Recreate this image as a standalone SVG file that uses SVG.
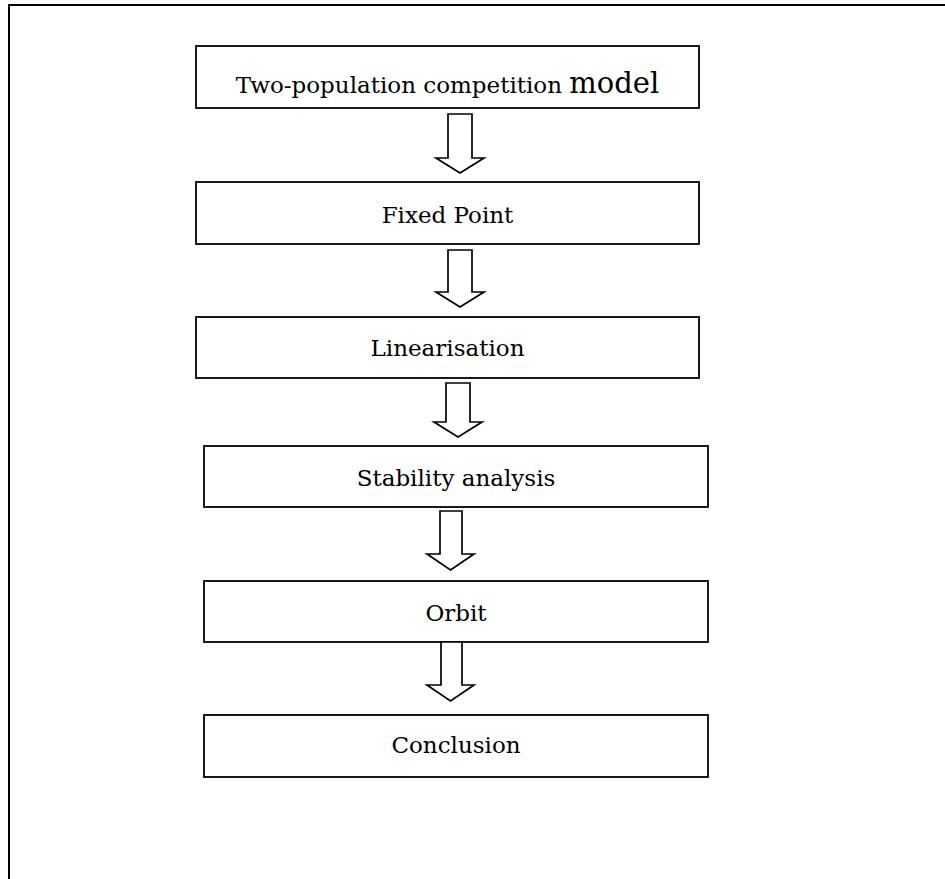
<svg xmlns="http://www.w3.org/2000/svg" width="945" height="879" viewBox="0 0 945 879">
<style>
.box{fill:#fff;stroke:#000;stroke-width:1.8}
.arr{fill:#fff;stroke:#000;stroke-width:1.7;stroke-linejoin:miter}
.t{font-family:"DejaVu Serif","Liberation Serif",serif;font-size:23px;fill:#000;text-anchor:middle}
</style>
<rect width="945" height="879" fill="#fff"/>
<path d="M9,879 V5 H945" fill="none" stroke="#000" stroke-width="2"/>
<g id="n1"><rect class="box" x="196" y="46" width="503" height="62"/><text class="t" x="447.5" y="93">Two-population competition <tspan style="font-size:29px">model</tspan></text></g>
<g id="n2"><rect class="box" x="196" y="182" width="503" height="62"/><text class="t" x="447.5" y="223">Fixed Point</text></g>
<g id="n3"><rect class="box" x="196" y="317" width="503" height="61"/><text class="t" x="447.5" y="356">Linearisation</text></g>
<g id="n4"><rect class="box" x="204" y="446" width="504" height="61"/><text class="t" x="456" y="486">Stability analysis</text></g>
<g id="n5"><rect class="box" x="204" y="581" width="504" height="61"/><text class="t" x="456" y="621">Orbit</text></g>
<g id="n6"><rect class="box" x="204" y="715" width="504" height="62"/><text class="t" x="456" y="753">Conclusion</text></g>
<g id="connectors">
<path class="arr" d="M448,114 H472 V158 H484 L460,173 L436,158 H448 Z"/>
<path class="arr" d="M448,250 H472 V292 H484 L460,307 L436,292 H448 Z"/>
<path class="arr" d="M446,383 H470 V422 H482 L458,437 L434,422 H446 Z"/>
<path class="arr" d="M440,511 H462 V554 H474 L450.5,570 L427,554 H440 Z"/>
<path class="arr" d="M441,642 H462 V685 H474 L450.5,701 L427,685 H441 Z"/>
</g>
</svg>
